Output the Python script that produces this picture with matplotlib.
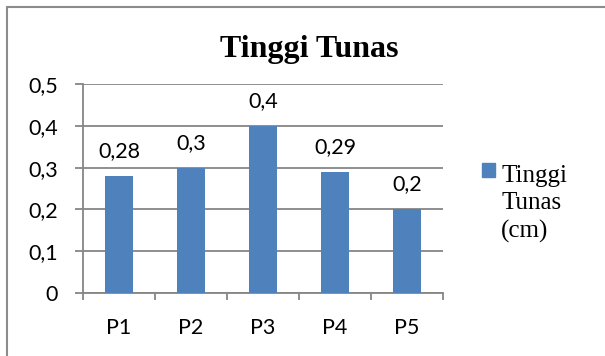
import matplotlib
matplotlib.use("Agg")
import matplotlib.pyplot as plt
from matplotlib.patches import Rectangle
from matplotlib.ticker import FixedLocator

categories = ["P1", "P2", "P3", "P4", "P5"]
values = [0.28, 0.3, 0.4, 0.29, 0.2]
labels = ["0,28", "0,3", "0,4", "0,29", "0,2"]
yticks = [0, 0.1, 0.2, 0.3, 0.4, 0.5]
ytick_labels = ["0", "0,1", "0,2", "0,3", "0,4", "0,5"]

W, H = 605, 356
BAR = "#4F81BD"
GRID = "#868686"
SANS = ["Lato", "DejaVu Sans"]
SERIF = ["Liberation Serif", "DejaVu Serif"]

fig = plt.figure(figsize=(W / 100, H / 100), dpi=100)

# chart border (only top and left visible in the crop)
fig.patches.append(Rectangle((7 / W, -0.1), 1.2, 1 - 7 / H + 0.1, transform=fig.transFigure,
                             fill=False, edgecolor="#8C8C8C", linewidth=1.5))

ax = fig.add_axes([83 / W, (H - 293) / H, (443 - 83) / W, (293 - 84) / H])
x = list(range(len(categories)))
ax.bar(x, values, width=0.4, color=BAR, zorder=3)
ax.set_xlim(-0.5, len(categories) - 0.5)
ax.set_ylim(0, 0.5)

ax.set_yticks(yticks)
ax.set_yticklabels(ytick_labels, fontsize=15.5, family=SANS)
ax.set_xticks(x)
ax.set_xticklabels(categories, fontsize=15.5, family=SANS)
ax.xaxis.set_minor_locator(FixedLocator([i - 0.5 for i in range(len(categories) + 1)]))
ax.tick_params(axis="x", which="major", length=0, pad=18)
ax.tick_params(axis="x", which="minor", length=5, color=GRID, width=1.3)
ax.tick_params(axis="y", length=6, color=GRID, width=1.3, pad=12)

ax.grid(axis="y", color=GRID, linewidth=1.3, zorder=0)
for s in ["top", "right"]:
    ax.spines[s].set_visible(False)
for s in ["left", "bottom"]:
    ax.spines[s].set_color(GRID)
    ax.spines[s].set_linewidth(1.3)

for xi, v, t in zip(x, values, labels):
    ax.annotate(t, (xi, v), xytext=(0, 18), textcoords="offset points",
                ha="center", va="center", fontsize=15.5, family=SANS)

fig.text(309 / W, 1 - 50 / H, "Tinggi Tunas", ha="center", va="center",
         fontsize=23, fontweight="bold", family=SERIF)

# legend
fig.patches.append(Rectangle((482 / W, 1 - 177 / H), 13 / W, 14 / H,
                             transform=fig.transFigure, color=BAR))
fig.text(501 / W, 1 - 204 / H, "Tinggi\nTunas\n(cm)", ha="left", va="center",
         fontsize=18, family=SERIF, linespacing=1.3)

fig.savefig("out.png", dpi=100)
